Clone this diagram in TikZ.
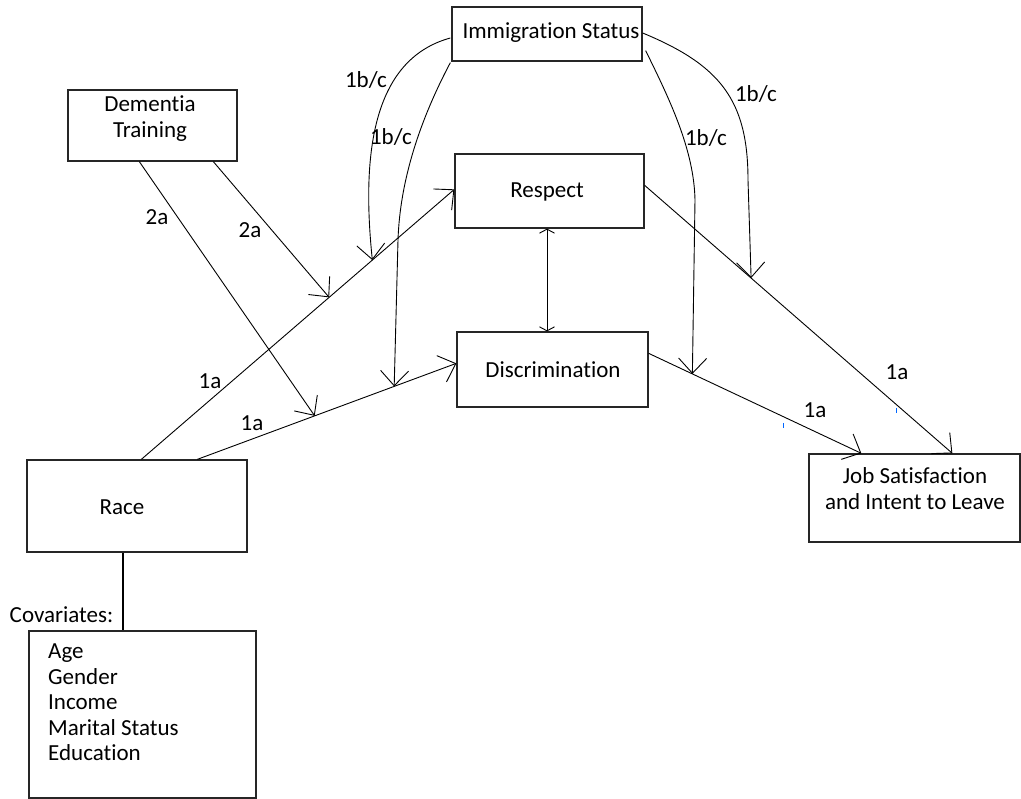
\documentclass[tikz,border=0pt]{standalone}
\usepackage{fontspec}
\setmainfont{Carlito}[Ligatures=NoCommon]
\usetikzlibrary{arrows.meta,calc}
\begin{document}
\begin{tikzpicture}[x=1pt,y=-1pt,
  box/.style={draw=black!85, line width=1.3pt, rectangle, inner sep=0pt},
  txt/.style={font=\fontsize{23}{26}\selectfont, inner sep=0pt, align=center, text=black},
  con/.style={line width=0.9pt, black},
  arr/.style={con, -{Straight Barb[length=15pt,width=28pt]}},
  darr/.style={con, {Straight Barb[length=4pt,width=15pt]}-{Straight Barb[length=4pt,width=15pt]}},
  tick/.style={draw=blue!60!cyan, line width=0.8pt}
]
\useasboundingbox (0,0) rectangle (1021,799);
\fill[white] (0,0) rectangle (1021,799);

% boxes
\node[box, minimum width=190pt, minimum height=54pt] (imm) at (547,34) {};
\node[txt] (immt) at (551,33) {Immigration Status};
\node[box, minimum width=169pt, minimum height=71pt] (dem) at (152.5,125.5) {};
\node[txt] (demt) at (150,119) {Dementia\\Training};
\node[box, minimum width=189pt, minimum height=74pt] (resp) at (549.5,191) {};
\node[txt] (respt) at (547,192) {Respect};
\node[box, minimum width=191pt, minimum height=75pt] (disc) at (552.5,369.5) {};
\node[txt] (disct) at (553,370) {Discrimination};
\node[box, minimum width=220pt, minimum height=92pt] (race) at (137,506) {};
\node[txt] (racet) at (122,507) {Race};
\node[box, minimum width=211pt, minimum height=88pt] (job) at (914.5,498) {};
\node[txt] (jobt) at (915,489) {Job Satisfaction\\and Intent to Leave};
\node[box, minimum width=227pt, minimum height=167pt] (cov) at (142.5,714.5) {};
\node[txt, align=left, anchor=north west, font=\fontsize{23}{25.5}\selectfont] (covt) at (48,644) {Age\\Gender\\Income\\Marital Status\\Education};
\node[txt] (covlab) at (61.5,615) {Covariates:};

% anchor points
\coordinate (rA) at ($(race.north west)+(115,0)$);
\coordinate (rB) at ($(race.north west)+(171,0)$);
\coordinate (respL) at ($(resp.north west)+(0,36)$);
\coordinate (discL) at ($(disc.north west)+(0,32)$);
\coordinate (respR) at ($(resp.north east)+(0,32)$);
\coordinate (discR) at ($(disc.north east)+(0,22)$);
\coordinate (jobA) at ($(job.north west)+(53,0)$);
\coordinate (jobB) at ($(job.north west)+(144,0)$);
\coordinate (demA) at ($(dem.south west)+(72,0)$);
\coordinate (demB) at ($(dem.south west)+(146,0)$);
\coordinate (immA) at ($(imm.west)+(-1,4)$);
\coordinate (immB) at ($(imm.south west)+(-1,1)$);
\coordinate (immC) at ($(imm.south east)+(3,-11)$);
\coordinate (immD) at ($(imm.east)+(0,-1)$);

\coordinate (p1) at ($(rA)!0.60!(respL)$);
\coordinate (p2) at ($(rA)!0.738!(respL)$);
\coordinate (q1) at ($(rB)!0.453!(discL)$);
\coordinate (q2) at ($(rB)!0.76!(discL)$);
\coordinate (s1) at ($(discR)!0.2056!(jobA)$);
\coordinate (t1) at ($(respR)!0.346!(jobB)$);

% main paths
\draw[arr] (rA) -- (respL);
\draw[arr] (rB) -- (discL);
\draw[arr] (discR) -- (jobA);
\draw[arr] (respR) -- (jobB);
\draw[darr] ($(resp.south)+(-2.5,0)$) -- ($(disc.north)+(-5.5,0)$);

% moderators
\draw[arr] (demA) -- (q1);
\draw[arr] (demB) -- (p1);
\draw[arr] (immA) .. controls (370,60) and (362,160) .. (p2);
\draw[arr] (immB) .. controls (420,120) and (400,180) .. (398,240) -- (q2);
\draw[arr] (immC) .. controls (670,100) and (694,150) .. (695,200) -- (s1);
\draw[arr] (immD) .. controls (720,65) and (748,100) .. (748,180) -- (t1);

% covariates link
\coordinate (covtop) at ($(race.south)+(-14,0)$);
\draw[con, line width=1.1pt] (covtop) -- (covtop |- cov.north);

% labels
\node[txt] (l1) at (366,80) {1b/c};
\node[txt] (l2) at (391,137) {1b/c};
\node[txt] (l3) at (706,138) {1b/c};
\node[txt] (l4) at (756,94) {1b/c};
\node[txt] (l5) at (157,217) {2a};
\node[txt] (l6) at (250,230) {2a};
\node[txt] (l7) at (210,381) {1a};
\node[txt] (l8) at (252,423) {1a};
\node[txt] (l9) at (897,372) {1a};
\node[txt] (l10) at (815,410) {1a};

% stray marks
\draw[tick] (783,423) -- (783,428);
\draw[tick] (896,408) -- (896,413);
\end{tikzpicture}
\end{document}
